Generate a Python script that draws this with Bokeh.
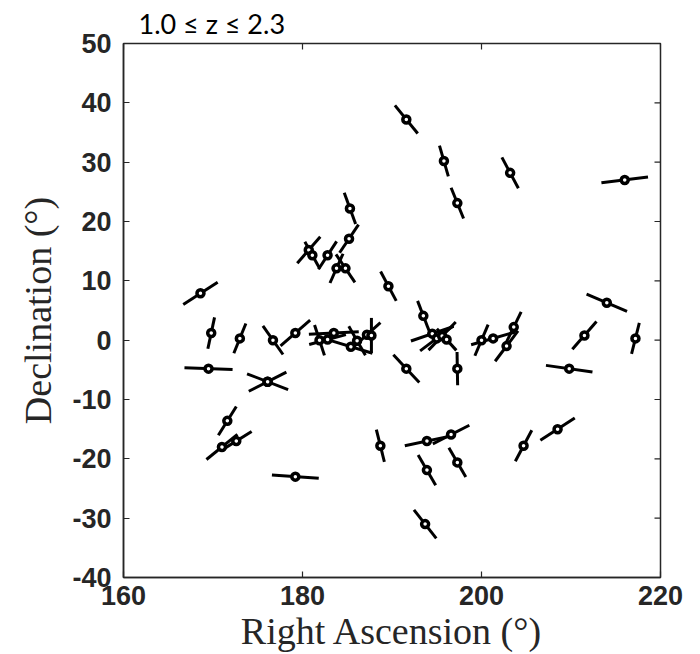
import numpy as np
from bokeh.plotting import figure
from bokeh.models import Range1d, FixedTicker, ColumnDataSource, Title
from bokeh.embed import file_html
from bokeh.resources import INLINE

# Right ascension (deg), declination (deg) of each source
ra = [191.6, 195.8, 203.2, 216.0, 197.3, 185.3, 185.2, 180.7, 181.1, 182.8,
      183.8, 184.8, 168.6, 189.6, 214.0, 193.5, 169.8, 173.0, 176.7, 179.2,
      181.9, 182.8, 183.5, 185.4, 186.1, 187.2, 187.7, 194.5, 195.0, 195.6,
      196.1, 200.0, 201.3, 203.6, 202.8, 211.5, 217.2, 169.5, 176.1, 176.1,
      191.6, 197.3, 209.8, 171.6, 171.0, 172.6, 188.7, 193.9, 196.6, 208.5,
      204.7, 179.2, 193.9, 197.3, 193.7]
dec = [37.2, 30.2, 28.2, 27.0, 23.1, 22.2, 17.1, 15.2, 14.3, 14.3,
       12.1, 12.1, 7.9, 9.1, 6.3, 4.1, 1.2, 0.3, 0.0, 1.2,
       0.0, 0.1, 1.2, -1.1, -0.1, 0.9, 0.8, 1.1, 0.3, 0.7,
       0.1, 0.0, 0.3, 2.2, -1.0, 0.8, 0.3, -4.8, -7.0, -7.0,
       -4.8, -4.8, -4.8, -13.6, -18.0, -17.0, -17.8, -17.0, -15.9, -15.0,
       -17.8, -23.0, -21.9, -20.6, -31.0]
# Polarization orientation (deg, clockwise from north on the map)
pol_angle = [-39, -16, -28, 83, -22, -20, 34, 41, -29, 33,
             24, -34, 57, -28, -67, -21, 12, 22, -35, 49,
             -18, 75, 87, -73, -30, 48, 0, 71, 53, 44,
             -42, 23, 74, 26, 37, 41, 14, -88, -69, 63,
             -43, -1, -82, 32, 51, 58, -14, 78, 63, 57,
             28, -86, -30, -30, -38]
# Segment length (in degrees of declination)
pol_len = [6.1, 5.4, 5.9, 7.9, 5.6, 5.6, 5.7, 5.9, 5.2, 5.6,
           5.4, 5.7, 6.9, 5.6, 7.4, 5.4, 5.4, 5.4, 5.9, 6.6,
           5.4, 6.4, 8.4, 7.6, 5.6, 6.1, 5.9, 7.6, 7.0, 6.6,
           4.9, 5.7, 7.7, 5.7, 6.4, 6.2, 5.4, 8.1, 7.4, 7.1,
           6.4, 5.6, 7.9, 5.7, 6.7, 6.1, 5.6, 7.6, 6.9, 6.9,
           5.9, 7.9, 5.9, 5.7, 6.1]

x_ticks = [160, 180, 200, 220]
x_tick_labels = ["160", "180", "200", "220"]
y_ticks = [-40, -30, -20, -10, 0, 10, 20, 30, 40, 50]
y_tick_labels = ["-40", "-30", "-20", "-10", "0", "10", "20", "30", "40", "50"]

W, H = 700, 654
BL, BR, BT, BB = 123, 40, 43, 76
fw = W - BL - BR
fh = H - BT - BB
xr = (160, 220)
yr = (-40, 50)
kx = fw / (xr[1] - xr[0])
ky = fh / (yr[1] - yr[0])

th = np.radians(np.array(pol_angle, dtype=float))
half = np.array(pol_len) / 2.0
dx = half * np.sin(th) * ky / kx
dy = half * np.cos(th)
ra_a = np.array(ra)
dec_a = np.array(dec)

src = ColumnDataSource(dict(ra=ra_a, dec=dec_a,
                            x0=ra_a - dx, x1=ra_a + dx,
                            y0=dec_a - dy, y1=dec_a + dy))

p = figure(width=W, height=H, x_range=Range1d(*xr), y_range=Range1d(*yr),
           output_backend="svg", toolbar_location=None,
           min_border_left=BL, min_border_right=BR,
           min_border_top=BT, min_border_bottom=BB)
p.title.visible = False
p.xgrid.visible = False
p.ygrid.visible = False
axis_color = "#262626"
p.outline_line_color = axis_color
p.outline_line_width = 1.5
p.background_fill_color = "white"
p.border_fill_color = "white"

TICK = 6

def style(ax, ticks, labels):
    ax.ticker = FixedTicker(ticks=ticks)
    ax.major_label_overrides = {t: l for t, l in zip(ticks, labels)}
    ax.major_tick_in = TICK
    ax.major_tick_out = 0
    ax.minor_tick_in = 0
    ax.minor_tick_out = 0
    ax.axis_line_color = axis_color
    ax.axis_line_width = 1.5
    ax.major_tick_line_color = axis_color
    ax.major_tick_line_width = 1.2
    ax.major_label_text_font = "Liberation Sans"
    ax.major_label_text_font_size = "27px"
    ax.major_label_text_font_style = "bold"
    ax.major_label_text_color = axis_color
    ax.axis_label_text_font = "Liberation Serif"
    ax.axis_label_text_font_style = "normal"
    ax.axis_label_text_font_size = "38px"
    ax.axis_label_text_color = axis_color

xa = p.xaxis[0]
ya = p.yaxis[0]
style(xa, x_ticks, x_tick_labels)
style(ya, y_ticks, y_tick_labels)
xa.major_label_standoff = 8
ya.major_label_standoff = 12
xa.axis_label_standoff = 2
ya.axis_label_standoff = 10
xa.axis_label = "Right Ascension (°)"
ya.axis_label = "Declination (°)"

# inward ticks on the top and right edges of the box
nx, ny = len(x_ticks), len(y_ticks)
p.segment(x0=x_ticks, x1=x_ticks, y0=[yr[1]] * nx, y1=[yr[1] - TICK / ky] * nx,
          line_color=axis_color, line_width=1.2)
p.segment(x0=[xr[1]] * ny, x1=[xr[1] - TICK / kx] * ny, y0=y_ticks, y1=y_ticks,
          line_color=axis_color, line_width=1.2)

p.segment(x0="x0", y0="y0", x1="x1", y1="y1", source=src,
          line_color="black", line_width=3)
p.scatter(x="ra", y="dec", source=src, marker="circle", size=7,
          line_color="black", line_width=3.5, fill_color="white")

title = Title(text="1.0 ≤ z ≤ 2.3", align="left", offset=15, standoff=7,
              text_font="Lato", text_font_size="27px",
              text_font_style="normal", text_color="black")
p.add_layout(title, "above")

open("out.html", "w").write(file_html(p, INLINE))
